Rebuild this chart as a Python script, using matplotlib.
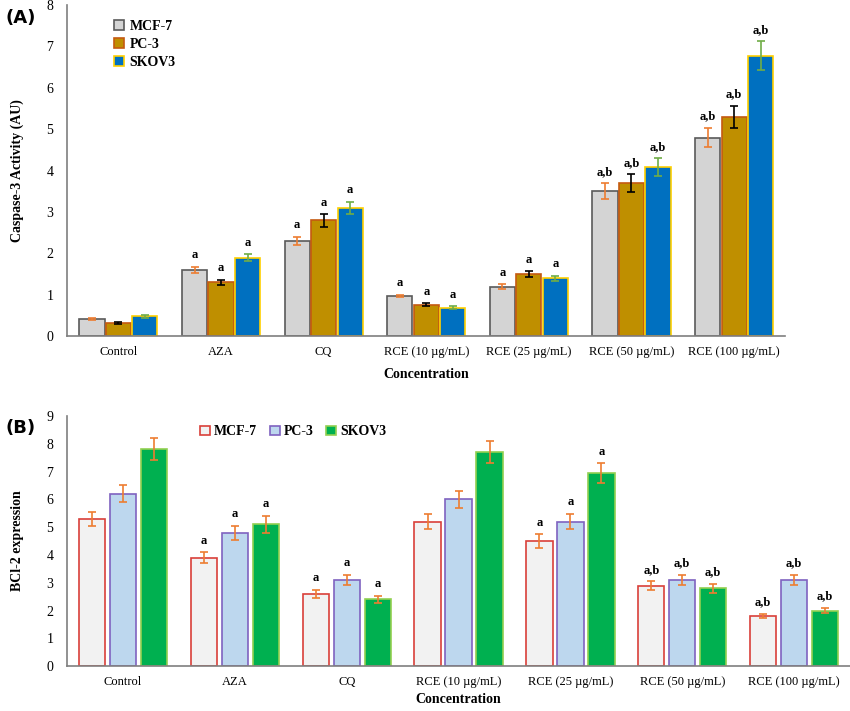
import numpy as np
import matplotlib
matplotlib.use("Agg")
import matplotlib.pyplot as plt

plt.rcParams['font.family'] = ['Liberation Serif', 'DejaVu Serif']

groups = ['Control', 'AZA', 'CQ', 'RCE (10 µg/mL)', 'RCE (25 µg/mL)',
          'RCE (50 µg/mL)', 'RCE (100 µg/mL)']
lines = ['MCF-7', 'PC-3', 'SKOV3']

# panel A: caspase-3 activity
casp = {
    'MCF-7': [0.42, 1.60, 2.30, 0.97, 1.20, 3.50, 4.80],
    'PC-3':  [0.32, 1.30, 2.80, 0.76, 1.50, 3.70, 5.30],
    'SKOV3': [0.48, 1.90, 3.10, 0.69, 1.40, 4.08, 6.78],
}
casp_err = {
    'MCF-7': [0.03, 0.08, 0.10, 0.03, 0.06, 0.19, 0.24],
    'PC-3':  [0.02, 0.07, 0.15, 0.04, 0.07, 0.21, 0.26],
    'SKOV3': [0.03, 0.08, 0.15, 0.03, 0.06, 0.22, 0.34],
}
casp_sig = ['', 'a', 'a', 'a', 'a', 'a,b', 'a,b']

# panel B: BCl-2 expression
bcl = {
    'MCF-7': [5.30, 3.90, 2.60, 5.20, 4.50, 2.90, 1.80],
    'PC-3':  [6.20, 4.80, 3.10, 6.00, 5.20, 3.10, 3.10],
    'SKOV3': [7.80, 5.10, 2.40, 7.70, 6.95, 2.80, 2.00],
}
bcl_err = {
    'MCF-7': [0.25, 0.20, 0.15, 0.28, 0.25, 0.15, 0.08],
    'PC-3':  [0.30, 0.25, 0.18, 0.30, 0.28, 0.18, 0.18],
    'SKOV3': [0.40, 0.30, 0.13, 0.40, 0.35, 0.15, 0.10],
}
bcl_sig = ['', 'a', 'a', '', 'a', 'a,b', 'a,b']

style_a = {
    'MCF-7': dict(fc='#d4d4d4', ec='#5a5a5a', err='#ed7d31'),
    'PC-3':  dict(fc='#bf8f00', ec='#c55a11', err='#000000'),
    'SKOV3': dict(fc='#0070c0', ec='#ffd000', err='#70ad47'),
}
style_b = {
    'MCF-7': dict(fc='#f2f2f2', ec='#d9403a', err='#ed7d31'),
    'PC-3':  dict(fc='#bdd7ee', ec='#7f62c0', err='#ed7d31'),
    'SKOV3': dict(fc='#00b050', ec='#92d050', err='#ed7d31'),
}

fig = plt.figure(figsize=(8.5, 7.11), dpi=100)
axA = fig.add_axes([0.079, 0.527, 0.845, 0.466])
axB = fig.add_axes([0.079, 0.063, 0.921, 0.352])

x = np.arange(len(groups))


def draw(ax, data, errs, sigs, styles, width, step, ymax, lpad):
    for i, name in enumerate(lines):
        s = styles[name]
        pos = x + (i - 1) * step
        ax.bar(pos, data[name], width, color=s['fc'], edgecolor=s['ec'],
               linewidth=1.2, label=name, zorder=2)
        ax.errorbar(pos, data[name], yerr=errs[name], fmt='none',
                    ecolor=s['err'], elinewidth=1.2, capsize=3, capthick=1.2,
                    zorder=3)
        for j in range(len(groups)):
            if sigs[j]:
                ax.annotate(sigs[j], (pos[j], data[name][j] + errs[name][j]),
                            xytext=(0, 4), textcoords='offset points',
                            ha='center', va='bottom', fontsize=9,
                            fontweight='bold')
    ax.set_xlim(-0.5, len(groups) - 0.5)
    ax.set_ylim(0, ymax)
    ax.set_yticks(range(ymax + 1))
    ax.set_xticks(x)
    ax.set_xticklabels(groups)
    ax.tick_params(axis='both', length=0)
    ax.tick_params(axis='x', pad=7, labelsize=9)
    ax.tick_params(axis='y', pad=10, labelsize=10)
    for sp in ['top', 'right']:
        ax.spines[sp].set_visible(False)
    for sp in ['left', 'bottom']:
        ax.spines[sp].set_color('#7f7f7f')
        ax.spines[sp].set_linewidth(1.2)
    ax.set_xlabel('Concentration', fontsize=10, fontweight='bold',
                  labelpad=lpad)


draw(axA, casp, casp_err, casp_sig, style_a, 0.245, 0.258, 8, 7)
draw(axB, bcl, bcl_err, bcl_sig, style_b, 0.235, 0.277, 9, 4)

axA.set_ylabel('Caspase-3 Activity (AU)', fontsize=10, fontweight='bold',
               labelpad=16)
axB.set_ylabel('BCl-2 expression', fontsize=10, fontweight='bold',
               labelpad=16)

axA.legend(loc='upper left', bbox_to_anchor=(0.058, 0.972), frameon=False,
           prop={'size': 10, 'weight': 'bold'}, handlelength=0.7,
           handleheight=0.7, handletextpad=0.4, labelspacing=0.35,
           borderaxespad=0)
axB.legend(loc='upper left', bbox_to_anchor=(0.163, 0.985), frameon=False,
           ncol=3, prop={'size': 10, 'weight': 'bold'}, handlelength=0.7,
           handleheight=0.7, handletextpad=0.3, columnspacing=0.9,
           borderaxespad=0)

fig.text(0.006, 0.975, '(A)', fontsize=13, fontweight='bold',
         family='DejaVu Sans', va='center')
fig.text(0.006, 0.398, '(B)', fontsize=13, fontweight='bold',
         family='DejaVu Sans', va='center')

fig.savefig('out.png', dpi=100)
